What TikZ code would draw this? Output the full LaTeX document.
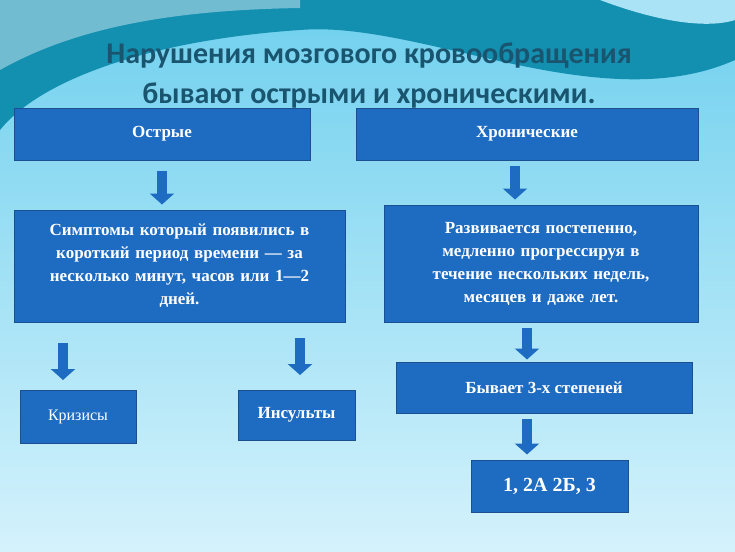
\documentclass[tikz,border=0pt]{standalone}
\usepackage{fontspec}
\setmainfont{Liberation Serif}
\newfontfamily\titlefont{Carlito}
\usetikzlibrary{arrows.meta}
\definecolor{boxblue}{HTML}{1E6BC2}
\definecolor{boxedge}{HTML}{1B4F8F}
\definecolor{titlecol}{HTML}{1A5570}
\definecolor{bgtop}{HTML}{6FD0EE}
\definecolor{bgbot}{HTML}{D4F2FC}
\definecolor{wave}{HTML}{138FB0}
\tikzset{
  box/.style = {draw=boxedge, line width=1pt, fill=boxblue, text=white, font=\bfseries\fontsize{17}{23}\selectfont, align=center, inner sep=2pt},
  down/.style = {line width=10pt, -{Triangle[width=24pt,length=11pt]}, color=boxblue}
}
\begin{document}
\begin{tikzpicture}[x=1pt, y=-1pt]
\useasboundingbox (0,0) rectangle (735,551);
% background
\shade[top color=bgtop, bottom color=bgbot] (0,0) rectangle (735,551);
\fill[wave] (0,0) -- (735,0) -- (735,60) .. controls (600,120) and (420,20) .. (300,30) .. controls (150,40) and (40,80) .. (0,130) -- cycle;
\fill[white!40!bgtop] (600,0) .. controls (680,30) and (720,25) .. (735,20) -- (735,0) -- cycle;
\fill[wave!60!white] (0,70) .. controls (80,25) and (180,10) .. (300,8) -- (300,0) -- (0,0) -- cycle;
% title
\node[font=\titlefont\bfseries\fontsize{30}{40}\selectfont, text=titlecol, align=center] (title) at (369,76) {Нарушения мозгового кровообращения\\бывают острыми и хроническими.};
% boxes
\node[box, minimum width=296pt, minimum height=52pt] (acute) at (162,134) {Острые};
\node[box, minimum width=342pt, minimum height=52pt] (chron) at (527,134) {Хронические};
\node[box, minimum width=331pt, minimum height=112pt, text width=320pt] (sympt) at (179.5,266) {Симптомы который появились в\\короткий период времени — за\\несколько минут, часов или 1—2\\дней.};
\node[box, minimum width=314pt, minimum height=117pt, text width=305pt] (slow) at (541,263.5) {Развивается постепенно,\\медленно прогрессируя в\\течение нескольких недель,\\месяцев и даже лет.};
\node[box, minimum width=116pt, minimum height=53pt, font=\fontsize{16}{19}\selectfont] (crisis) at (78,416.5) {Кризисы};
\node[box, minimum width=117pt, minimum height=50pt] (stroke) at (296.5,415) {Инсульты};
\node[box, minimum width=296pt, minimum height=51pt] (degree) at (544,387.5) {Бывает 3-х степеней};
\node[box, minimum width=157pt, minimum height=52pt, font=\bfseries\fontsize{20}{24}\selectfont] (stages) at (549.5,486) {1, 2А 2Б, 3};
% arrows
\draw[down] ([yshift=-10pt]acute.south) -- ([yshift=5pt]sympt.north -| acute.south);
\draw[down] ([xshift=-12pt,yshift=-5pt]chron.south) -- ([yshift=5pt]slow.north -| 515,0);
\draw[down] (63,343) -- (63,380);
\draw[down] (300,338) -- (300,375);
\draw[down] ([xshift=-14pt,yshift=-5pt]slow.south) -- ([yshift=2pt]degree.north -| 527,0);
\draw[down] ([xshift=-17pt,yshift=-5pt]degree.south) -- ([yshift=5pt]stages.north -| 527,0);
\end{tikzpicture}
\end{document}
